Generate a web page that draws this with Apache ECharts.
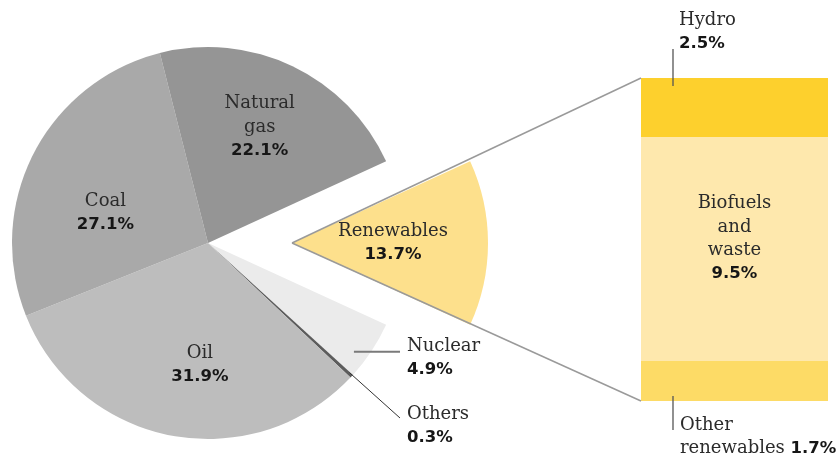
<!DOCTYPE html>
<html><head><meta charset="utf-8">
<script src="https://cdn.jsdelivr.net/npm/echarts@6/dist/echarts.min.js"></script>
<style>html,body{margin:0;padding:0;background:#fff}#c{width:836px;height:456px}</style>
</head><body><div id="c"></div>
<script>
// ---- data ----
const energySources = ['Renewables', 'Nuclear', 'Others', 'Oil', 'Coal', 'Natural gas'];
const energyShares = [13.7, 4.9, 0.3, 31.9, 27.1, 22.1];
const renewableTypes = ['Hydro', 'Biofuels and waste', 'Other renewables'];
const renewableShares = [2.5, 9.5, 1.7];

// ---- layout / style ----
const PIE_C = [208, 243], PIE_R = 196, EXPLODE = 84;
const GRID = { left: 641, top: 78, width: 187, height: 323 };
const sliceColors = {
  'Renewables': '#fde08c', 'Nuclear': '#ebebeb', 'Others': '#5c5c5c',
  'Oil': '#bdbdbd', 'Coal': '#a9a9a9', 'Natural gas': '#959595'
};
const barColors = { 'Hydro': '#fdd02d', 'Biofuels and waste': '#fee8ad', 'Other renewables': '#fddb66' };
const displayName = { 'Natural gas': 'Natural\ngas', 'Biofuels and waste': 'Biofuels\nand\nwaste' };
const SERIF = '"DejaVu Serif", serif';
const SANS = '"DejaVu Sans", sans-serif';
const rich = {
  n: { fontFamily: SERIF, fontSize: 18, color: '#2b2b2b', lineHeight: 23.5 },
  p: { fontFamily: SANS, fontSize: 16.5, fontWeight: 'bold', color: '#161616', lineHeight: 23.5 }
};
// label placement: inside labels polar [angleDeg, dist] from slice centre; outside labels absolute
const pieLabelSpec = {
  'Natural gas': { a: 66, d: 127 },
  'Coal': { a: 163.5, d: 107 },
  'Oil': { a: -93.8, d: 122 },
  'Renewables': { a: -5.5, d: 126 },
  'Nuclear': { x: 407, y: 358 },
  'Others': { x: 407, y: 426 }
};

const total = energyShares.reduce((s, v) => s + v, 0);
const startAngle = energyShares[0] / total * 180;
const rad = d => d * Math.PI / 180;
const polar = (c, a, d) => [c[0] + d * Math.cos(rad(a)), c[1] - d * Math.sin(rad(a))];

const pieData = energySources.map((name, i) => {
  const spec = pieLabelSpec[name];
  const outside = spec.x !== undefined;
  return {
    name, value: energyShares[i],
    selected: name === 'Renewables',
    itemStyle: { color: sliceColors[name] },
    label: { position: outside ? 'outside' : 'inside' },
    labelLine: { show: false }
  };
});

const renTotal = renewableShares.reduce((s, v) => s + v, 0);

const chart = echarts.init(document.getElementById('c'));
const option = {
  animation: false,
  grid: { left: GRID.left, top: GRID.top, width: GRID.width, height: GRID.height },
  xAxis: { type: 'category', data: ['Renewables'], show: false },
  yAxis: { type: 'value', min: 0, max: renTotal, inverse: true, show: false },
  series: [
    {
      type: 'pie', center: PIE_C, radius: PIE_R, startAngle, clockwise: true,
      selectedMode: 'single', selectedOffset: EXPLODE, avoidLabelOverlap: false,
      emphasis: { disabled: true }, silent: true,
      itemStyle: { borderWidth: 0 },
      label: {
        show: true,
        formatter: p => `{n|${displayName[p.name] || p.name}}\n{p|${p.value}%}`,
        rich
      },
      labelLayout: p => {
        const name = energySources[p.dataIndex];
        const spec = pieLabelSpec[name];
        if (spec.x === undefined) {
          const c = name === 'Renewables' ? [PIE_C[0] + EXPLODE, PIE_C[1]] : PIE_C;
          const pt = polar(c, spec.a, spec.d);
          return { x: pt[0], y: pt[1], align: 'center', verticalAlign: 'middle' };
        }
        return { x: spec.x, y: spec.y, align: 'left', verticalAlign: 'middle' };
      },
      data: pieData
    },
    ...renewableTypes.map((name, i) => ({
      type: 'bar', name, stack: 'ren', barWidth: '100%', silent: true,
      emphasis: { disabled: true },
      itemStyle: { color: barColors[name] },
      data: [renewableShares[i]],
      label: {
        show: true,
        position: name === 'Biofuels and waste' ? 'inside' : 'top',
        offset: name === 'Biofuels and waste' ? [0, -10] : [0, 0],
        align: name === 'Biofuels and waste' ? 'center' : 'left',
        formatter: p => name === 'Other renewables'
          ? `{n|Other}\n{n|renewables }{p|${p.value}%}`
          : `{n|${displayName[name] || name}}\n{p|${p.value}%}`,
        rich
      },
      labelLayout: name === 'Biofuels and waste' ? null : (p => {
        const r = p.rect;
        if (name === 'Hydro') {
          return { x: r.x + 38, y: r.y - 46, align: 'left', verticalAlign: 'middle' };
        }
        const b = r.y + r.height;
        return { x: r.x + 39, y: b + 36, align: 'left', verticalAlign: 'middle' };
      })
    }))
  ]
};
chart.setOption(option);

// connector lines from the exploded slice apex to the bar's corners, and label leader lines
const apex = [PIE_C[0] + EXPLODE, PIE_C[1]];
const yTop = chart.convertToPixel({ yAxisIndex: 0 }, 0);
const yBot = chart.convertToPixel({ yAxisIndex: 0 }, renTotal);
const tickX = GRID.left + 32;
const line = (pts, stroke, w) => ({ type: 'polyline', z: 100, silent: true, shape: { points: pts }, style: { stroke, lineWidth: w, fill: null } });
const nucStart = polar(PIE_C, -36.7, 182);
const othStart = polar(PIE_C, -42.5, 192);
chart.setOption({
  graphic: [
    line([apex, [GRID.left, yTop]], '#9a9a9a', 1.5),
    line([apex, [GRID.left, yBot]], '#9a9a9a', 1.5),
    line([nucStart, [pieLabelSpec.Nuclear.x - 7, nucStart[1]]], '#7a7a7a', 2),
    line([othStart, [pieLabelSpec.Others.x - 7, pieLabelSpec.Others.y - 8]], '#333', 1),
    line([[tickX, yTop - 29], [tickX, yTop + 8]], '#555', 1.3),
    line([[tickX, yBot - 5], [tickX, yBot + 29]], '#555', 1.3)
  ]
});
</script>
</body></html>
